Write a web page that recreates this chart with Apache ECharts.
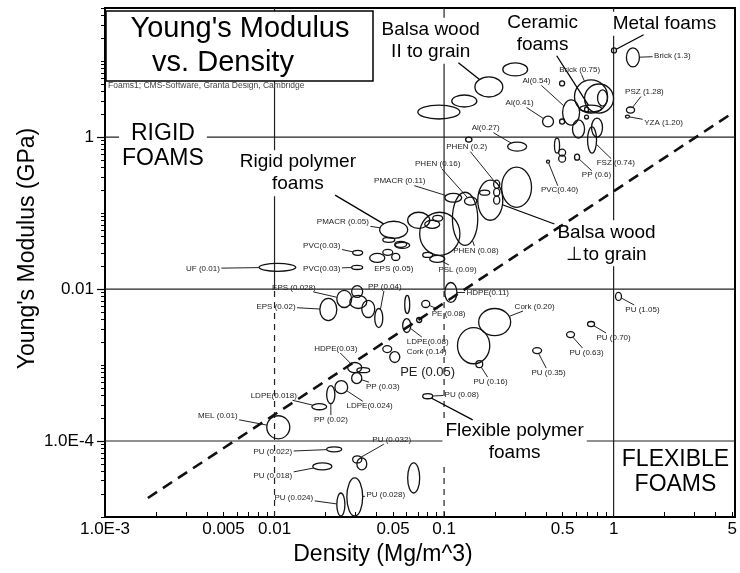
<!DOCTYPE html>
<html>
<head>
<meta charset="utf-8">
<script src="https://cdn.jsdelivr.net/npm/echarts@6/dist/echarts.min.js"></script>
<style>
html, body { margin: 0; padding: 0; background: #fff; }
#chart { width: 740px; height: 573px; }
</style>
</head>
<body>
<div id="chart"></div>
<script>
// axis limits
const xMin = 0.001, xMax = 5.2
const yMin = 1e-5, yMax = 50

// property range of each foam: [density lo, density hi, modulus lo, modulus hi]  (Mg/m^3, GPa)
const foamRanges = [
	[0.070, 0.124, 1.73, 2.64], [0.111, 0.156, 2.49, 3.58], [0.152, 0.222, 3.37, 6.19], [0.222, 0.311, 6.38, 9.47],
	[0.48, 0.514, 4.71, 5.48], [0.588, 0.921, 2.07, 5.65], [0.674, 0.999, 2.07, 5.0], [0.804, 0.921, 2.56, 4.17],
	[0.50, 0.63, 1.44, 3.08], [0.63, 0.849, 2.14, 2.64], [0.674, 0.711, 2.14, 2.49], [0.674, 0.711, 1.73, 1.95],
	[0.572, 0.674, 0.97, 1.68], [0.741, 0.860, 1.0, 1.78], [0.702, 0.793, 0.615, 1.36], [0.448, 0.48, 0.615, 0.97],
	[0.474, 0.521, 0.562, 0.695], [0.474, 0.521, 0.468, 0.579], [0.588, 0.63, 0.497, 0.597], [0.402, 0.419, 0.454, 0.497],
	[0.381, 0.442, 1.36, 1.89], [0.48, 0.514, 1.48, 1.73], [0.237, 0.307, 0.654, 0.859], [0.972, 1.04, 12.8, 14.9],
	[1.19, 1.42, 8.38, 14.9], [1.19, 1.33, 2.07, 2.49], [1.175, 1.241, 1.78, 1.95], [0.134, 0.146, 0.859, 1.0],
	[0.2185, 0.328, 0.119, 0.402], [0.158, 0.222, 0.0804, 0.271], [0.112, 0.158, 0.0376, 0.188], [0.0718, 0.124, 0.0278, 0.1025],
	[0.101, 0.127, 0.139, 0.182], [0.0417, 0.061, 0.0465, 0.078], [0.061, 0.0823, 0.063, 0.1025], [0.0435, 0.0512, 0.0412, 0.048],
	[0.0512, 0.0602, 0.0354, 0.0425], [0.0364, 0.0447, 0.0224, 0.0295], [0.0435, 0.0498, 0.0278, 0.0333], [0.0491, 0.0548, 0.0238, 0.0295],
	[0.0512, 0.0627, 0.0343, 0.0412], [0.0289, 0.0331, 0.0278, 0.0323], [0.0285, 0.0331, 0.0181, 0.0205], [0.0081, 0.01335, 0.0171, 0.0218],
	[0.132, 0.156, 0.127, 0.162], [0.162, 0.186, 0.172, 0.200], [0.196, 0.213, 0.212, 0.271], [0.196, 0.213, 0.167, 0.212],
	[0.196, 0.213, 0.131, 0.167], [0.0857, 0.0981, 0.078, 0.0935], [0.0769, 0.0942, 0.063, 0.0804], [0.0823, 0.101, 0.0224, 0.0278],
	[0.0748, 0.0857, 0.0261, 0.0304], [0.0285, 0.0331, 0.00775, 0.0111], [0.0233, 0.0285, 0.00572, 0.00959], [0.0278, 0.035, 0.00555, 0.00824],
	[0.0327, 0.039, 0.00422, 0.00708], [0.039, 0.0435, 0.00311, 0.00555], [0.0185, 0.0233, 0.00385, 0.00752], [0.0586, 0.0627, 0.00477, 0.00824],
	[0.101, 0.119, 0.00666, 0.0122], [0.0738, 0.0823, 0.00572, 0.00708], [0.0689, 0.0738, 0.00363, 0.00422], [0.057, 0.0636, 0.00268, 0.00409],
	[0.120, 0.186, 0.00104, 0.00311], [0.160, 0.247, 0.00244, 0.00555], [0.0435, 0.0491, 0.00146, 0.0018], [0.0478, 0.0548, 0.00108, 0.0015],
	[0.027, 0.0327, 0.000794, 0.00108], [0.0306, 0.0364, 0.000794, 0.000924], [0.0285, 0.0327, 0.000569, 0.000794], [0.0227, 0.027, 0.00042, 0.000623],
	[0.0203, 0.0227, 0.00031, 0.000535], [0.0166, 0.0203, 0.000258, 0.00031], [0.0090, 0.0123, 0.000107, 0.000215], [1.026, 1.113, 0.00708, 0.00902],
	[0.702, 0.772, 0.00321, 0.00374], [0.528, 0.588, 0.0023, 0.00276], [0.333, 0.376, 0.00141, 0.0017], [0.154, 0.169, 0.000924, 0.00114],
	[0.0748, 0.0857, 0.00036, 0.00042], [0.0203, 0.0249, 7.21e-5, 8.38e-5], [0.0168, 0.0218, 4.17e-5, 5.15e-5], [0.0289, 0.0327, 5.15e-5, 6.38e-5],
	[0.0306, 0.035, 4.17e-5, 6.0e-5], [0.0233, 0.026, 1.03e-5, 2.07e-5], [0.0267, 0.0331, 1.03e-5, 3.27e-5], [0.061, 0.0718, 2.07e-5, 5.15e-5]
]

// material labels, where the text sits (density, modulus) and which range it points to (-1 = none)
const labelNames = [
	'Brick (1.3)', 'Brick (0.75)', 'Al(0.54)', 'Al(0.41)', 'Al(0.27)', 'PSZ (1.28)', 'YZA (1.20)', 'FSZ (0.74)',
	'PP (0.6)', 'PVC(0.40)', 'PHEN (0.2)', 'PHEN (0.16)', 'PMACR (0.11)', 'PMACR (0.05)', 'PVC(0.03)', 'PVC(0.03)',
	'UF (0.01)', 'EPS (0.05)', 'EPS (0.028)', 'PP (0.04)', 'EPS (0.02)', 'PSL (0.09)', 'PHEN (0.08)', 'HDPE(0.11)',
	'PE (0.08)', 'LDPE(0.08)', 'Cork (0.14)', 'Cork (0.20)', 'PE (0.05)', 'HDPE(0.03)', 'PP (0.03)', 'LDPE(0.024)',
	'LDPE(0.018)', 'PP (0.02)', 'MEL (0.01)', 'PU (1.05)', 'PU (0.70)', 'PU (0.63)', 'PU (0.35)', 'PU (0.16)',
	'PU (0.08)', 'PU (0.032)', 'PU (0.022)', 'PU (0.018)', 'PU (0.024)', 'PU (0.028)'
]
const labelPos = [
	[2.22, 11.7], [0.63, 7.65], [0.351, 5.48], [0.279, 2.81], [0.176, 1.31], [1.52, 3.92], [1.97, 1.53], [1.03, 0.454],
	[0.793, 0.315], [0.48, 0.2], [0.136, 0.738], [0.0917, 0.44], [0.0548, 0.263], [0.0253, 0.0757], [0.019, 0.0376], [0.019, 0.0187],
	[0.00378, 0.0187], [0.0505, 0.0187], [0.013, 0.0105], [0.0447, 0.0108], [0.0102, 0.00589], [0.120, 0.0181], [0.154, 0.0323], [0.181, 0.00902],
	[0.1064, 0.00477], [0.080, 0.00204], [0.079, 0.0015], [0.342, 0.00589], [0.080, 0.000794], [0.023, 0.00165], [0.0435, 0.000519], [0.0364, 0.000291],
	[0.0099, 0.000394], [0.0215, 0.000191], [0.00463, 0.000215], [1.48, 0.00538], [1.0, 0.0023], [0.692, 0.00146], [0.4135, 0.000794], [0.188, 0.000604],
	[0.127, 0.000407], [0.0491, 0.000104], [0.00977, 7.21e-5], [0.00977, 3.48e-5], [0.013, 1.78e-5], [0.0453, 1.95e-5]
]
const labelTarget = [
	24, 5, 8, 20, 22, 25, 26, 14, 18, 19, 46, 44, 32, 33, 41, 42,
	43, -1, 54, 57, 58, 51, 30, 60, 61, 63, -1, 65, -1, 68, 70, 71,
	73, 72, 74, 75, 76, 77, 78, 79, 80, 83, 81, 82, 85, 86
]
const largeLabels = ['PE (0.05)']

// family annotations
const familyNames = [
	'Balsa wood\nII to grain', 'Ceramic\nfoams', 'Metal foams', 'Rigid polymer\nfoams',
	'Balsa wood\n⊥to grain', 'Flexible polymer\nfoams', 'RIGID\nFOAMS', 'FLEXIBLE\nFOAMS'
]
const familyPos = [
	[0.0834, 18.5], [0.381, 22.9], [1.995, 31.0], [0.01373, 0.335],
	[0.908, 0.040], [0.2606, 9.76e-5], [0.002197, 0.761], [2.317, 3.92e-5]
]
const familyTarget = [2, 9, 23, 33, 29, 80, -1, -1]
const regionNames = ['RIGID\nFOAMS', 'FLEXIBLE\nFOAMS']

// E ~ rho^1.5 guide
const guideLine = [[0.00179, 1.78e-5], [4.82, 1.95]]

const xTickLabels = [0.001, 0.005, 0.01, 0.05, 0.1, 0.5, 1, 5]
const yTickLabels = [1e-4, 0.01, 1]
const xGridLines = [0.01, 0.1, 1]
const yGridLines = [1e-4, 0.01, 1]
const dashedBelow = [0.01, 0.1]   // these verticals are dashed under E = 0.01

const FONT = '"Liberation Sans", Arial, Helvetica, sans-serif'

function decadeTicks(lo, hi) {
	let out = []
	for (let e = Math.floor(Math.log10(lo)); e <= Math.ceil(Math.log10(hi)); e++) {
		for (let k = 1; k < 10; k++) {
			let v = +(k * Math.pow(10, e)).toPrecision(6)
			if (v >= lo && v <= hi) out.push(v)
		}
	}
	return out
}

const measureCtx = document.createElement('canvas').getContext('2d')
function textWidth(str, font) {
	measureCtx.font = font
	return Math.max.apply(null, str.split('\n').map(s => measureCtx.measureText(s).width))
}

function ellipseGeom(api, r) {
	let p1 = api.coord([r[0], r[3]])
	let p2 = api.coord([r[1], r[2]])
	return {
		cx: (p1[0] + p2[0]) / 2,
		cy: (p1[1] + p2[1]) / 2,
		rx: Math.abs(p2[0] - p1[0]) / 2,
		ry: Math.abs(p2[1] - p1[1]) / 2
	}
}

// line from the edge of a text box (centre c) to the edge of an ellipse
function leaderLine(c, hw, hh, e) {
	let dx = c[0] - e.cx, dy = c[1] - e.cy
	let s = 1 / Math.sqrt(Math.pow(dx / e.rx, 2) + Math.pow(dy / e.ry, 2))
	let t = Math.min(hw / Math.max(Math.abs(dx), 1e-6), hh / Math.max(Math.abs(dy), 1e-6))
	if (s + t >= 1) return null
	return { x1: c[0] - dx * t, y1: c[1] - dy * t, x2: e.cx + dx * s, y2: e.cy + dy * s }
}

let gridSegments = []
xGridLines.forEach(x => {
	if (dashedBelow.indexOf(x) >= 0) {
		gridSegments.push([x, 0.01, x, yMax, 0])
		gridSegments.push([x, yMin, x, 0.01, 1])
	} else {
		gridSegments.push([x, yMin, x, yMax, 0])
	}
})
yGridLines.forEach(y => gridSegments.push([xMin, y, xMax, y, 0]))

function tickFormat(v) {
	if (v < 0.0005) return '1.0E-4'
	if (v < 0.002) return '1.0E-3'
	return String(+v.toPrecision(3))
}

let chart = echarts.init(document.getElementById('chart'), null, { renderer: 'canvas' })

let option = {
	animation: false,
	backgroundColor: '#fff',
	textStyle: { fontFamily: FONT },
	grid: { left: 105, right: 5, top: 8, bottom: 56, show: true, borderColor: '#000', borderWidth: 2, backgroundColor: 'transparent' },
	xAxis: {
		type: 'log',
		logBase: 10,
		min: xMin,
		max: xMax,
		name: 'Density (Mg/m^3)',
		nameLocation: 'middle',
		nameGap: 25,
		nameTextStyle: { fontSize: 23, color: '#000', fontFamily: FONT, padding: [0, 74, 0, 0] },
		axisLine: { show: true, lineStyle: { color: '#000', width: 2 } },
		axisTick: { show: true, inside: true, length: 5, customValues: decadeTicks(xMin, xMax), lineStyle: { color: '#000', width: 1 } },
		axisLabel: { customValues: xTickLabels, formatter: tickFormat, fontSize: 17, color: '#000', margin: 4, fontFamily: FONT },
		splitLine: { show: false }
	},
	yAxis: [{
		type: 'log',
		logBase: 10,
		min: yMin,
		max: yMax,
		position: 'left',
		name: "Young's Modulus (GPa)",
		nameLocation: 'middle',
		nameGap: 66,
		nameTextStyle: { fontSize: 23, color: '#000', fontFamily: FONT, padding: [0, 0, 0, 28] },
		axisLine: { show: true, lineStyle: { color: '#000', width: 2 } },
		axisTick: { show: true, length: 4, customValues: decadeTicks(yMin, yMax), lineStyle: { color: '#000', width: 1 } },
		axisLabel: { show: false },
		splitLine: { show: false }
	}, {
		type: 'log',
		logBase: 10,
		min: yMin,
		max: yMax,
		position: 'left',
		axisLine: { show: false },
		axisTick: { show: true, length: 8, customValues: yTickLabels, lineStyle: { color: '#000', width: 1.2 } },
		axisLabel: { customValues: yTickLabels, formatter: tickFormat, fontSize: 17, color: '#000', margin: 11, fontFamily: FONT },
		splitLine: { show: false }
	}],
	graphic: [
		{ type: 'rect', z: 100, shape: { x: 106, y: 11, width: 267, height: 70 }, style: { fill: '#fff', stroke: '#000', lineWidth: 1.5 } },
		{ type: 'text', z: 101, style: { text: "Young's Modulus", x: 240, y: 29, align: 'center', verticalAlign: 'middle', font: '29px ' + FONT, fill: '#000' } },
		{ type: 'text', z: 101, style: { text: 'vs. Density', x: 223, y: 63, align: 'center', verticalAlign: 'middle', font: '29px ' + FONT, fill: '#000' } },
		{ type: 'text', z: 101, style: { text: 'Foams1; CMS-Software, Granta Design, Cambridge', x: 108, y: 86, align: 'left', verticalAlign: 'middle', font: '8.5px ' + FONT, fill: '#444' } }
	],
	series: [
		{
			name: 'grid',
			type: 'custom',
			coordinateSystem: 'cartesian2d',
			z: 1,
			silent: true,
			data: gridSegments,
			encode: { x: [0, 2], y: [1, 3] },
			renderItem(params, api) {
				let a = api.coord([api.value(0), api.value(1)])
				let b = api.coord([api.value(2), api.value(3)])
				return {
					type: 'line',
					shape: { x1: a[0], y1: a[1], x2: b[0], y2: b[1] },
					style: { stroke: '#222', lineWidth: 1.2, lineDash: api.value(4) ? [6, 5] : null }
				}
			}
		},
		{
			name: 'families',
			type: 'custom',
			coordinateSystem: 'cartesian2d',
			z: 2,
			silent: true,
			data: familyPos,
			encode: { x: 0, y: 1 },
			renderItem(params, api) {
				let i = params.dataIndex
				let name = familyNames[i]
				let big = regionNames.indexOf(name) >= 0
				let size = big ? 23 : 19
				let lh = big ? 25 : 22
				let font = size + 'px ' + FONT
				let c = api.coord([api.value(0), api.value(1)])
				let lines = name.split('\n').length
				let children = [{
					type: 'text',
					style: {
						text: name, x: c[0], y: c[1], align: 'center', verticalAlign: 'middle',
						font: font, lineHeight: lh, fill: '#000', backgroundColor: '#fff', padding: [1, 3]
					}
				}]
				let tgt = familyTarget[i]
				if (tgt >= 0) {
					let seg = leaderLine(c, textWidth(name, font) / 2 + 3, lines * lh / 2, ellipseGeom(api, foamRanges[tgt]))
					if (seg) children.push({ type: 'line', shape: seg, style: { stroke: '#000', lineWidth: 1.3 } })
				}
				return { type: 'group', children: children }
			}
		},
		{
			name: 'foams',
			type: 'custom',
			coordinateSystem: 'cartesian2d',
			z: 3,
			silent: true,
			data: foamRanges,
			encode: { x: [0, 1], y: [2, 3] },
			renderItem(params, api) {
				let e = ellipseGeom(api, [api.value(0), api.value(1), api.value(2), api.value(3)])
				return {
					type: 'ellipse',
					shape: { cx: e.cx, cy: e.cy, rx: e.rx, ry: e.ry },
					style: { fill: null, stroke: '#111', lineWidth: 1.3 }
				}
			}
		},
		{
			name: 'labels',
			type: 'custom',
			coordinateSystem: 'cartesian2d',
			z: 4,
			silent: true,
			data: labelPos,
			encode: { x: 0, y: 1 },
			renderItem(params, api) {
				let i = params.dataIndex
				let name = labelNames[i]
				let font = (largeLabels.indexOf(name) >= 0 ? 13 : 8) + 'px ' + FONT
				let c = api.coord([api.value(0), api.value(1)])
				let children = [{
					type: 'text',
					style: { text: name, x: c[0], y: c[1], align: 'center', verticalAlign: 'middle', font: font, fill: '#222' }
				}]
				let tgt = labelTarget[i]
				if (tgt >= 0) {
					let seg = leaderLine(c, textWidth(name, font) / 2 + 1.5, 4.5, ellipseGeom(api, foamRanges[tgt]))
					if (seg) children.unshift({ type: 'line', shape: seg, style: { stroke: '#222', lineWidth: 1 } })
				}
				return { type: 'group', children: children }
			}
		},
		{
			name: 'guide',
			type: 'line',
			z: 5,
			silent: true,
			showSymbol: false,
			data: guideLine,
			lineStyle: { color: '#111', width: 2.6, type: [11, 7] }
		}
	]
}

chart.setOption(option)
</script>
</body>
</html>
